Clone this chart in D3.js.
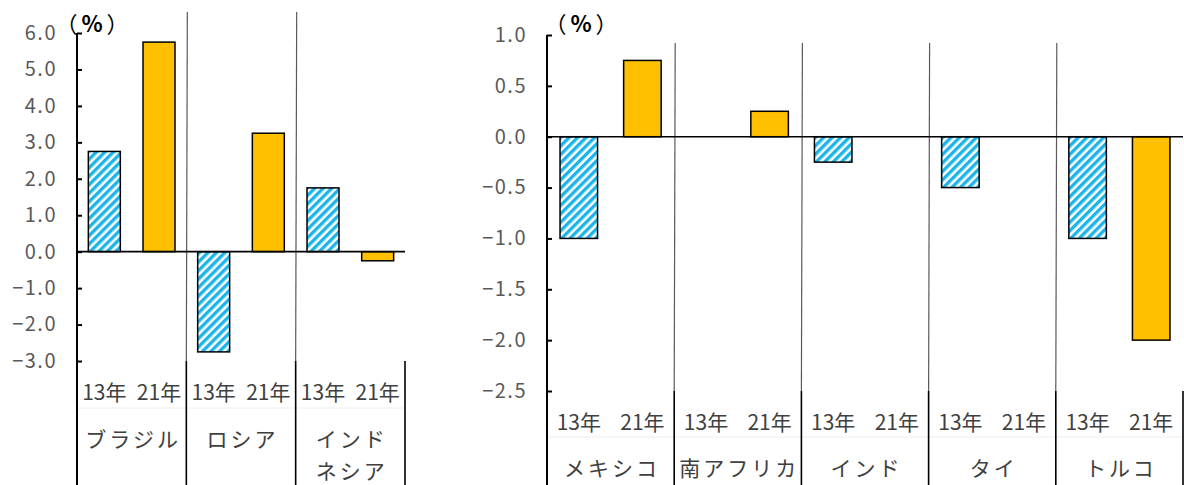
<!DOCTYPE html>
<html>
<head>
<meta charset="utf-8">
<script src="https://cdn.jsdelivr.net/npm/d3@7"></script>
<style>
  body { margin: 0; background: #fff; }
  svg text { font-family: "Noto Sans CJK JP", "Noto Sans", sans-serif; }
  .tick text { fill: #595959; font-size: 20px; letter-spacing: 1.5px; }
  .cat { fill: #404040; font-size: 21px; }
</style>
</head>
<body>
<svg id="chart" width="1184" height="485"></svg>
<script>

// chart data
const years = ["13年", "21年"];

const leftCountries = ["ブラジル", "ロシア", "インド\nネシア"];
const left13 = [2.75, -2.75, 1.75];
const left21 = [5.75, 3.25, -0.25];
const leftTicks = [6, 5, 4, 3, 2, 1, 0, -1, -2, -3];

const rightCountries = ["メキシコ", "南アフリカ", "インド", "タイ", "トルコ"];
const right13 = [-1.0, 0, -0.25, -0.5, -1.0];
const right21 = [0.75, 0.25, 0, 0, -2.0];
const rightTicks = [1, 0.5, 0, -0.5, -1, -1.5, -2, -2.5];

let svg = d3.select('#chart');

// hatched fill used for the 13年 bars
let defs = svg.append('defs');
let hatch = defs.append('pattern')
    .attr('id', 'hatch')
    .attr('patternUnits', 'userSpaceOnUse')
    .attr('width', 6)
    .attr('height', 6)
    .attr('patternTransform', 'rotate(45)');
hatch.append('rect').attr('width', 6).attr('height', 6).attr('fill', '#ffffff');
hatch.append('rect').attr('width', 3.4).attr('height', 6).attr('fill', '#1db4ea');

/** Draws one panel: y axis, zero line, category dividers, bars and the two level labels.
 * @param {object} p : layout of the panel in pixels
 */
function panel( p, countries, v13, v21, ticks ) {
    let g = svg.append('g').attr('class', 'panel');

    let y = d3.scaleLinear().domain(p.domain).range([p.bottom, p.top]);
    let x = d3.scaleBand().domain(countries).range([p.left, p.right]).padding(0);
    let xi = d3.scaleBand().domain(years).range([0, x.bandwidth()])
        .paddingInner(p.pad).paddingOuter(p.pad / 2);

    // faint rule between the year row and the country row
    g.append('line')
        .attr('x1', p.left).attr('x2', p.right)
        .attr('y1', p.rule).attr('y2', p.rule)
        .attr('stroke', '#ececec').attr('stroke-width', 1);

    // gray dividers inside the plot
    countries.slice(1).forEach( function(c) {
        let cx = x(c);
        g.append('line')
            .attr('x1', cx + 1).attr('x2', cx)
            .attr('y1', p.divTop).attr('y2', p.bottom)
            .attr('stroke', '#5a5a5a').attr('stroke-width', 1.2);
    } );

    // black dividers under the plot, where the category labels sit
    countries.concat(['_end']).forEach( function(c, i) {
        let cx = i < countries.length ? x(c) : p.right;
        g.append('line')
            .attr('x1', cx).attr('x2', cx)
            .attr('y1', p.bottom).attr('y2', 485)
            .attr('stroke', '#000').attr('stroke-width', 1.6);
    } );

    // bars
    let rows = [];
    countries.forEach( function(c, i) {
        rows.push({ c: c, yr: years[0], v: v13[i] });
        rows.push({ c: c, yr: years[1], v: v21[i] });
    } );
    g.append('g').selectAll('rect')
        .data(rows.filter( function(d) {return d.v != 0;} ))
        .enter().append('rect')
            .attr('x', function(d) {return x(d.c) + xi(d.yr);} )
            .attr('width', xi.bandwidth())
            .attr('y', function(d) {return y(Math.max(0, d.v));} )
            .attr('height', function(d) {return Math.abs(y(d.v) - y(0));} )
            .attr('fill', function(d) {return d.yr == years[0] ? 'url(#hatch)' : '#ffc000';} )
            .attr('stroke', '#000')
            .attr('stroke-width', 1.5);

    // zero line
    g.append('line')
        .attr('x1', p.left).attr('x2', p.right)
        .attr('y1', y(0)).attr('y2', y(0))
        .attr('stroke', '#000').attr('stroke-width', 1.6);

    // y axis, ticks pointing into the plot
    let axis = d3.axisLeft(y)
        .tickValues(ticks)
        .tickSizeInner(-5)
        .tickSizeOuter(0)
        .tickPadding(20)
        .tickFormat( function(d) {return d3.format('.1f')(d).replace('-', '−');} );
    let ag = g.append('g')
        .attr('transform', 'translate(' + p.left + ',0)')
        .call(axis);
    ag.select('.domain').remove();
    ag.selectAll('.tick line').attr('stroke', '#000').attr('stroke-width', 2);
    g.append('line')
        .attr('x1', p.left).attr('x2', p.left)
        .attr('y1', y(p.domain[1])).attr('y2', 485)
        .attr('stroke', '#000').attr('stroke-width', 2);

    // year labels
    countries.forEach( function(c) {
        years.forEach( function(yr) {
            g.append('text')
                .attr('class', 'cat')
                .attr('x', x(c) + xi(yr) + xi.bandwidth() / 2)
                .attr('y', p.yearY)
                .attr('text-anchor', 'middle')
                .attr('dominant-baseline', 'central')
                .text(yr);
        } );
    } );

    // country labels, possibly on two lines
    countries.forEach( function(c) {
        let lines = c.split('\n');
        lines.forEach( function(t, k) {
            g.append('text')
                .attr('class', 'cat')
                .attr('x', x(c) + x.bandwidth() / 2 + 1.5)
                .attr('y', p.nameY + k * 32)
                .attr('text-anchor', 'middle')
                .attr('dominant-baseline', 'central')
                .style('letter-spacing', '3px')
                .text(t);
        } );
    } );

    // unit label
    let u = g.append('text')
        .attr('x', p.unitX)
        .attr('y', 22)
        .attr('text-anchor', 'middle')
        .attr('dominant-baseline', 'central')
        .attr('fill', '#000')
        .style('font-size', '22px')
        .style('letter-spacing', '4px');
    u.append('tspan').text('（');
    u.append('tspan').style('font-weight', 'bold').text('%');
    u.append('tspan').text('）');

    return g;
}

panel({ left: 77, right: 405, top: 33, bottom: 361, domain: [-3, 6],
        pad: 0.415, divTop: 12, rule: 408, yearY: 391, nameY: 438, unitX: 94 },
      leftCountries, left13, left21, leftTicks);

panel({ left: 547, right: 1183, top: 35, bottom: 391, domain: [-2.5, 1],
        pad: 0.41, divTop: 43, rule: 437, yearY: 421, nameY: 467, unitX: 583 },
      rightCountries, right13, right21, rightTicks);

</script>
</body>
</html>
